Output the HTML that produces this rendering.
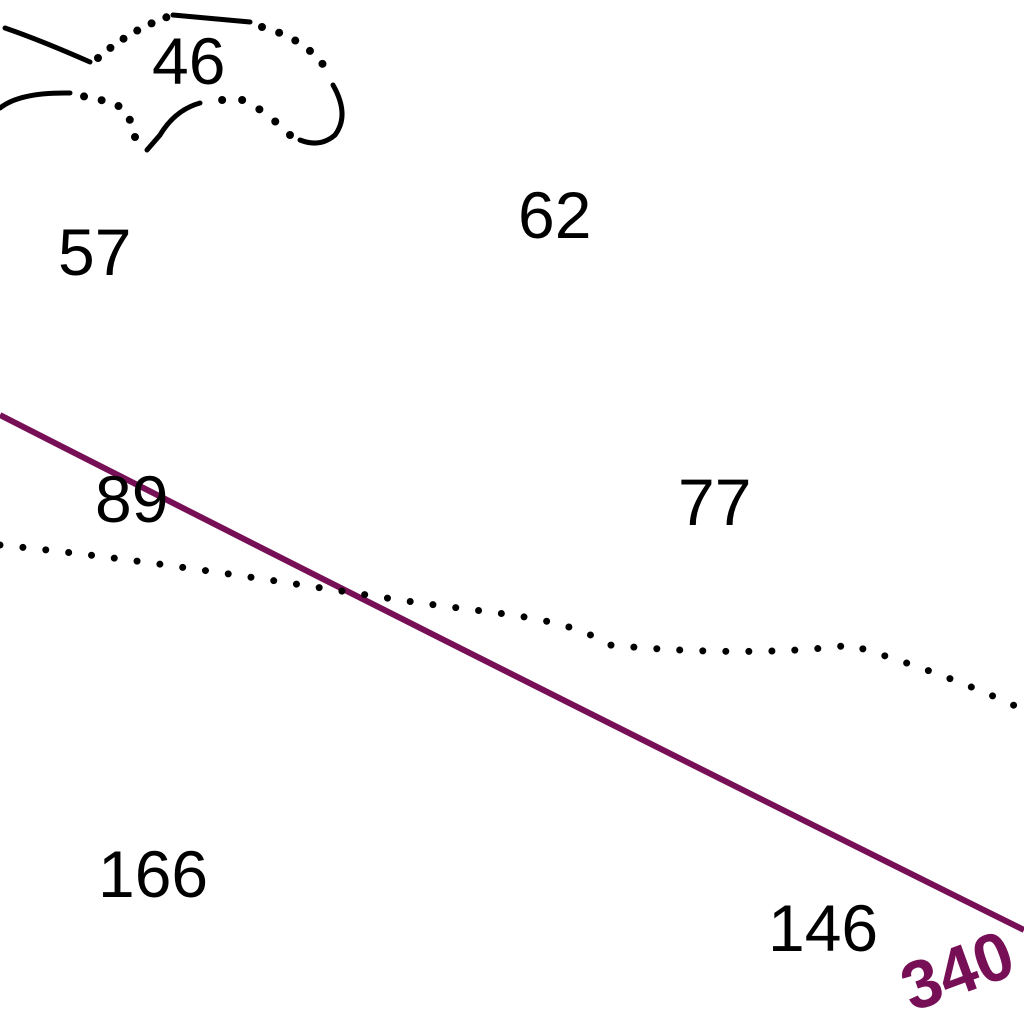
<!DOCTYPE html>
<html><head><meta charset="utf-8"><style>
html,body{margin:0;padding:0;background:#fff;width:1024px;height:1024px;overflow:hidden}
svg{display:block}
text{font-family:"Liberation Sans","DejaVu Sans",sans-serif;font-size:66px;fill:#000}
</style></head><body>
<svg width="1024" height="1024" viewBox="0 0 1024 1024">
<g fill="none" stroke="#000" stroke-width="5" stroke-linecap="round">
 <path d="M5,28 Q40,40 90,62"/>
 <path d="M98,58 Q130,30 170,16" stroke-dasharray="0 16" stroke-width="8"/>
 <path d="M173,15 L250,22"/>
 <path d="M262,27 Q310,40 330,75" stroke-dasharray="0 18" stroke-width="8"/>
 <path d="M333,85 Q350,115 335,135 Q320,148 300,140"/>
 <path d="M290,135 Q270,115 245,100 L215,100" stroke-dasharray="0 20" stroke-width="8"/>
 <path d="M200,103 Q175,110 160,135 L147,150"/>
 <path d="M135,137 Q130,108 110,102 L82,96" stroke-dasharray="0 18" stroke-width="8"/>
 <path d="M70,93 Q20,92 0,108"/>
</g>
<path d="M0,415 Q500,670 1024,930" fill="none" stroke="#770f57" stroke-width="6"/>
<path d="M0,545 C150,560 300,585 400,600 S560,615 610,645 C680,652 780,655 850,645 C900,660 960,680 1024,710" fill="none" stroke="#000" stroke-width="7" stroke-dasharray="0 23" stroke-linecap="round"/>
<text x="152" y="84">46</text>
<text x="58" y="275">57</text>
<text x="518" y="238">62</text>
<text x="95" y="522">89</text>
<text x="678" y="525">77</text>
<text x="98" y="897">166</text>
<text x="768" y="951">146</text>
<text x="912" y="1012" transform="rotate(-20 912 1012)" style="fill:#770f57;font-weight:bold;font-size:68px">340</text>
</svg>
</body></html>
